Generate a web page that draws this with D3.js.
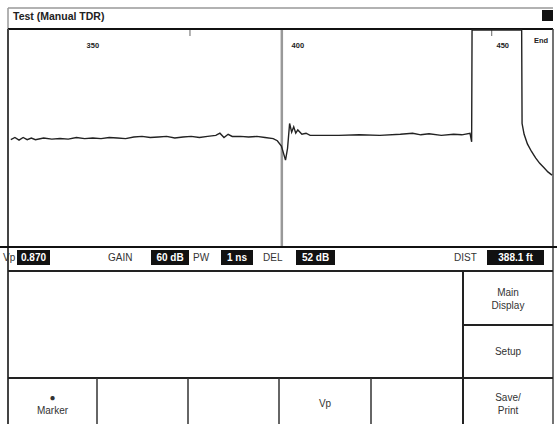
<!DOCTYPE html>
<html>
<head>
<meta charset="utf-8">
<script src="https://cdn.jsdelivr.net/npm/d3@7"></script>
<style>
  body { margin: 0; background: #fff; }
  svg { display: block; font-family: "Liberation Sans", Arial, sans-serif; }
</style>
</head>
<body>
<div id="viz"></div>
<script>
// trace: distance (ft) and amplitude (% of screen, clipped at 100)
var traceDist = [330, 331, 332, 333, 334, 335, 336, 338, 340, 342, 344, 346, 348, 350, 352, 354, 356, 358, 360, 362,
  364, 366, 368, 370, 372, 374, 376, 378, 380, 381, 382, 383, 384, 386, 388, 390, 392, 394, 395, 396,
  397, 397.5, 398, 398.5, 399, 399.5, 400, 401, 402, 403, 405, 410, 415, 420, 425, 428, 430, 432, 435, 438,
  440, 442, 442.4, 442.5, 448, 454.6, 454.7, 455.2, 456, 457, 458, 459, 460, 461, 462];
var traceAmp = [-2, 0, -2.5, 0, -2, -0.5, -2, -0.5, -1.5, -1, -1.5, 0, -1, -0.5, -1, 0, -0.5, -1, 0.5, 1,
  0, 0.5, 1, -0.5, 0.5, 1, 0, 1, 2, 4, 0, 3, 1, 1, 0.5, 1, 0, -1, -3, -8,
  -21, -10, 13, 5, 10, 4, 7, 3, 4, 2, 2, 2, 2.5, 2, 3, 4, 2.5, 3.5, 2, 3,
  2.5, 4, -4, 100, 100, 100, 13, 3, -6, -13, -19, -24, -28, -32, -35];

var distLabels = [350, 400, 450];
var topTicks = [373.7, 447.3];
var markerDist = 396.1;

var statusNames = ["Vp", "GAIN", "PW", "DEL", "DIST"];
var statusValues = ["0.870", "60 dB", "1 ns", "52 dB", "388.1 ft"];

var sideKeys = ["Main\nDisplay", "Setup"];
var bottomKeys = ["\u25CF\nMarker", "", "", "Vp", "", "Save/\nPrint"];

var W = 557, H = 424;
var plot = {left: 9, right: 552, top: 30, bottom: 246};

var svg = d3.select("#viz").append("svg")
    .attr("width", W).attr("height", H);

// title bar
svg.append("line").attr("x1", 8).attr("x2", 553).attr("y1", 8).attr("y2", 8)
    .attr("stroke", "#999").attr("stroke-width", 1.5);
svg.append("line").attr("x1", 8).attr("x2", 8).attr("y1", 8).attr("y2", 29)
    .attr("stroke", "#999").attr("stroke-width", 1.5);
svg.append("text").attr("x", 13).attr("y", 20)
    .attr("font-size", 10.5).attr("font-weight", "bold").attr("fill", "#222")
    .text("Test (Manual TDR)");
svg.append("rect").attr("x", 542).attr("y", 10).attr("width", 11).attr("height", 11).attr("fill", "#111");

var x = d3.scaleLinear().domain([329.8, 462]).range([10, 552]);
var y = d3.scaleLinear().domain([-100, 100]).range([245, plot.top]);

// plot frame
svg.append("line").attr("x1", 8).attr("x2", 553).attr("y1", 29).attr("y2", 29)
    .attr("stroke", "#111").attr("stroke-width", 2);
svg.append("line").attr("x1", 8).attr("x2", 8).attr("y1", 29).attr("y2", 424)
    .attr("stroke", "#444").attr("stroke-width", 2);
svg.append("line").attr("x1", 553).attr("x2", 553).attr("y1", 29).attr("y2", 424)
    .attr("stroke", "#444").attr("stroke-width", 1.5);

// marker
svg.append("line").attr("x1", x(markerDist)).attr("x2", x(markerDist))
    .attr("y1", plot.top).attr("y2", plot.bottom)
    .attr("stroke", "#999").attr("stroke-width", 2.5);

svg.selectAll(".tt").data(topTicks).enter().append("line")
    .attr("x1", d => x(d)).attr("x2", d => x(d))
    .attr("y1", plot.top).attr("y2", plot.top + 6)
    .attr("stroke", "#666").attr("stroke-width", 1);

svg.selectAll(".dl").data(distLabels).enter().append("text")
    .attr("x", d => x(d)).attr("y", 48)
    .attr("text-anchor", "middle").attr("font-size", 7.5).attr("font-weight", "bold").attr("fill", "#222")
    .text(d => d);
svg.append("text").attr("x", 541).attr("y", 43)
    .attr("text-anchor", "middle").attr("font-size", 7.5).attr("font-weight", "bold").attr("fill", "#222")
    .text("End");

// trace
var pts = traceDist.map((d, i) => [d, traceAmp[i]]);
svg.append("path").datum(pts)
    .attr("d", d3.line().x(d => x(d[0])).y(d => y(d[1])))
    .attr("fill", "none").attr("stroke", "#222").attr("stroke-width", 1.4);

// status bar
svg.append("line").attr("x1", 0).attr("x2", 557).attr("y1", 247).attr("y2", 247)
    .attr("stroke", "#111").attr("stroke-width", 2);
var nameX = [3, 108, 193, 263, 454];
var boxX = [17, 151, 221, 296, 487];
var boxW = [33, 38, 32, 39, 57];
statusNames.forEach(function(n, i) {
    svg.append("text").attr("x", nameX[i]).attr("y", 261)
        .attr("font-size", 10).attr("fill", "#333").text(n);
    svg.append("rect").attr("x", boxX[i]).attr("y", 250).attr("width", boxW[i]).attr("height", 15)
        .attr("fill", "#111");
    svg.append("text").attr("x", boxX[i] + boxW[i] / 2).attr("y", 261)
        .attr("text-anchor", "middle").attr("font-size", 10).attr("font-weight", "bold").attr("fill", "#fff")
        .text(statusValues[i]);
});

// soft-key panel
svg.append("line").attr("x1", 8).attr("x2", 553).attr("y1", 271).attr("y2", 271)
    .attr("stroke", "#222").attr("stroke-width", 2);
svg.append("line").attr("x1", 463).attr("x2", 463).attr("y1", 271).attr("y2", 424)
    .attr("stroke", "#222").attr("stroke-width", 2);
svg.append("line").attr("x1", 463).attr("x2", 553).attr("y1", 325).attr("y2", 325)
    .attr("stroke", "#222").attr("stroke-width", 2);
svg.append("line").attr("x1", 8).attr("x2", 553).attr("y1", 378).attr("y2", 378)
    .attr("stroke", "#222").attr("stroke-width", 2);

function keyLabel(cx, cy, s) {
    var lines = s.split("\n");
    lines.forEach(function(l, k) {
        svg.append("text").attr("x", cx).attr("y", cy + (k - (lines.length - 1) / 2) * 13 + 4)
            .attr("text-anchor", "middle").attr("font-size", 10).attr("fill", "#333").text(l);
    });
}
sideKeys.forEach(function(s, i) { keyLabel(508, 298 + i * 53, s); });

var colX = [8, 97, 188, 279, 371, 463, 553];
bottomKeys.forEach(function(s, i) {
    if (i > 0 && i < 5) {
        svg.append("line").attr("x1", colX[i]).attr("x2", colX[i]).attr("y1", 378).attr("y2", 424)
            .attr("stroke", "#333").attr("stroke-width", 1.5);
    }
    if (s) keyLabel((colX[i] + colX[i + 1]) / 2, 403, s);
});
</script>
</body>
</html>
